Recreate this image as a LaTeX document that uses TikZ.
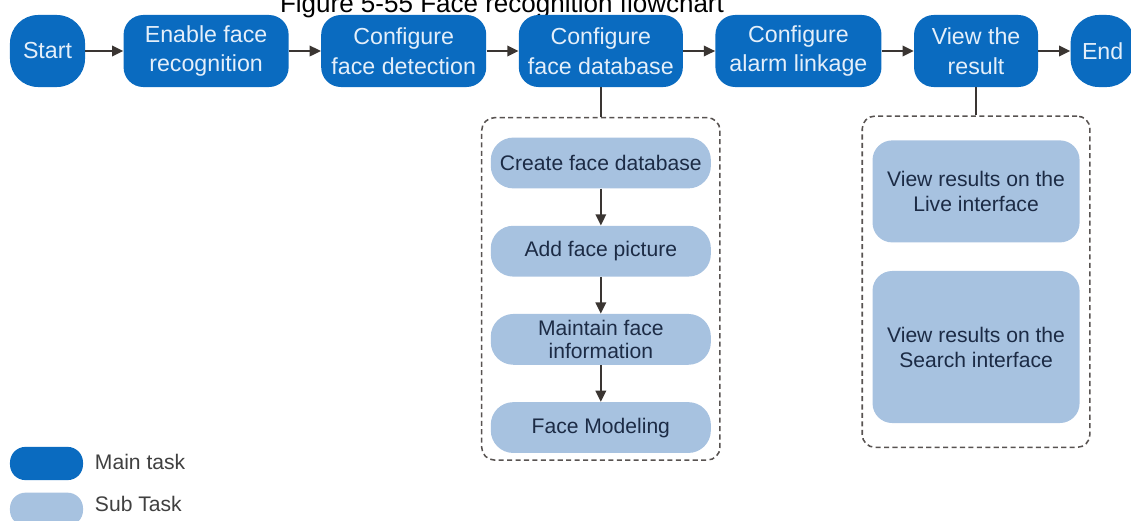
\documentclass[tikz,border=0pt]{standalone}
\usepackage{fontspec}
\setmainfont{Liberation Sans}
\usetikzlibrary{arrows.meta,positioning,fit}
\definecolor{mainblue}{HTML}{0A6BC0}
\definecolor{subblue}{HTML}{A7C2E0}
\definecolor{subtext}{HTML}{1C2B45}
\definecolor{maintext}{HTML}{E4EFFA}
\definecolor{linegray}{HTML}{3A3532}

\begin{document}
\begin{tikzpicture}[x=0.025cm,y=-0.025cm,node distance=0.8cm,
      mt/.style={rectangle,rounded corners=14pt,fill=mainblue,text=maintext,
                 minimum height=1.8cm,inner sep=0pt,align=center,
                 font=\fontsize{16.5}{21}\selectfont},
      st/.style={rectangle,rounded corners=16pt,fill=subblue,text=subtext,
                 minimum width=5.5cm,minimum height=1.27cm,inner sep=0pt,align=center,
                 font=\fontsize{15}{16.5}\selectfont},
      grp/.style={draw=linegray!85,line width=1.1pt,rounded corners=9pt,
                  dash pattern=on 3.6pt off 2.4pt},
      key/.style={anchor=west,text=black!75,font=\fontsize{15}{17}\selectfont},
      a/.style={-{Triangle[length=2.8mm,width=2.6mm]},line width=1.5pt,draw=linegray}]
  \useasboundingbox (0,0) rectangle (1131,520);
  \node[anchor=base,font=\fontsize{18.5}{22}\selectfont] (title) at (502,12)
       {Figure 5-55 Face recognition flowchart};

  % main tasks
  \node[mt,minimum width=1.875cm,rounded corners=20pt] (start) at (47.5,51) {Start};
  \node[mt,minimum width=4.125cm] (enable) [right=0.95cm of start] {Enable face\\recognition};
  \node[mt,minimum width=4.125cm] (detect) [right=of enable] {Configure\\face detection};
  \node[mt,minimum width=4.1cm]   (facedb) [right=of detect] {Configure\\face database};
  \node[mt,minimum width=4.15cm]  (alarm)  [right=of facedb] {Configure\\alarm linkage};
  \node[mt,minimum width=3.1cm]   (result) [right=of alarm]  {View the\\result};
  \node[mt,minimum width=1.6cm,rounded corners=20pt] (end) [right=of result] {End};
  \foreach \u/\v in {start/enable,enable/detect,detect/facedb,facedb/alarm,alarm/result,result/end}
    \draw[a] (\u) -- (\v);

  % sub tasks
  \node[st] (create)   [below=1.25cm of facedb] {Create face database};
  \node[st] (addpic)   [below=0.92cm of create] {Add face picture};
  \node[st] (maintain) [below=0.92cm of addpic] {Maintain face\\information};
  \node[st] (model)    [below=0.92cm of maintain] {Face Modeling};
  \draw[a] (create) -- (addpic); \draw[a] (addpic) -- (maintain); \draw[a] (maintain) -- (model);
  \node[grp,fit=(create)(model),inner xsep=0.22cm,inner ysep=0.33cm,yshift=0.16cm] (dbgroup) {};
  \draw[line width=1.5pt,linegray] (facedb.south) -- (dbgroup.north);

  \node[st,minimum width=5.175cm,minimum height=2.55cm,rounded corners=14pt,
        font=\fontsize{15}{17.8}\selectfont] (live) [below=1.32cm of result]
       {View results on the\\Live interface};
  \node[st,minimum width=5.175cm,minimum height=3.8cm,rounded corners=14pt,
        font=\fontsize{15}{17.8}\selectfont] (search) [below=0.7cm of live]
       {View results on the\\Search interface};
  \node[grp,fit=(live)(search),inner xsep=0.25cm,inner ysep=0.6cm] (viewgroup) {};
  \draw[line width=1.5pt,linegray] (result.south) -- (viewgroup.north);

  % legend
  \node[mt,minimum width=1.825cm,minimum height=0.83cm,rounded corners=11pt] (keymain) at (46.5,463.5) {};
  \node[st,minimum width=1.825cm,minimum height=0.83cm,rounded corners=11pt] (keysub) [below=0.3cm of keymain] {};
  \node[key] (keymaintxt) at (90,462) {Main task};
  \node[key] (keysubtxt)  at (90,504) {Sub Task};
\end{tikzpicture}
\end{document}
